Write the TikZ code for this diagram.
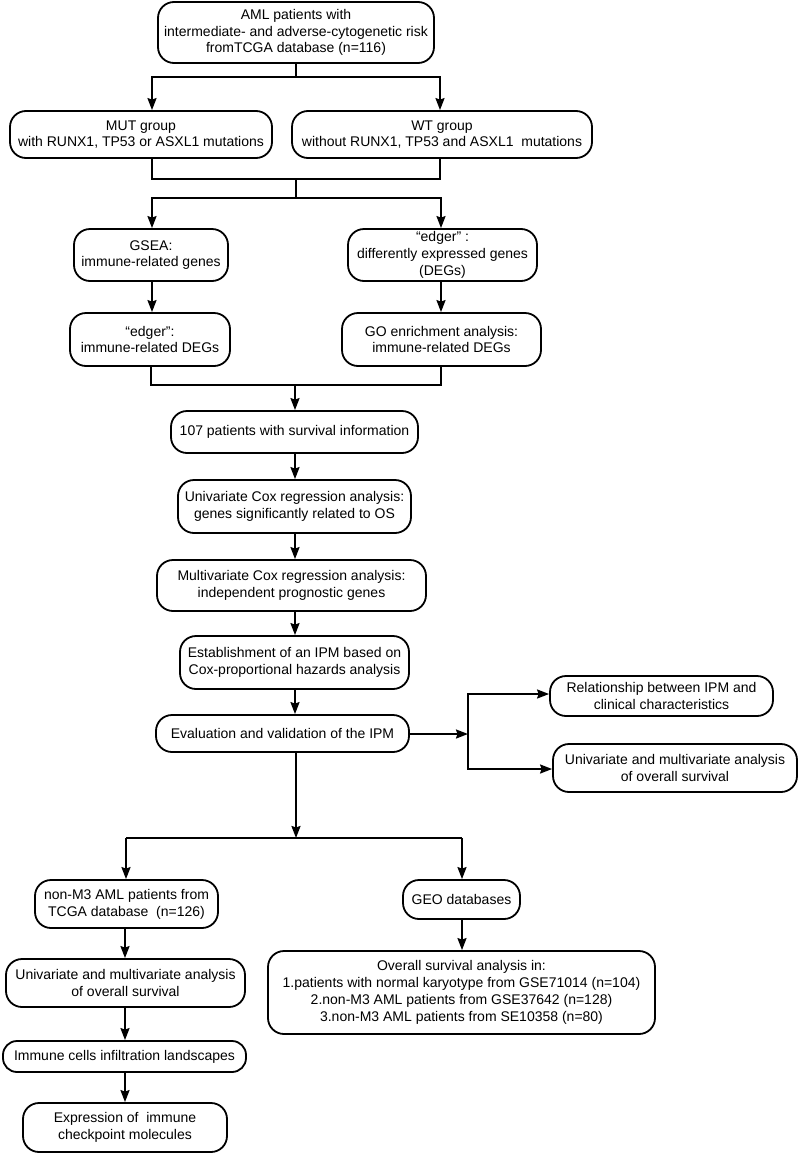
\documentclass[tikz,border=0pt]{standalone}
\usepackage{fontspec}
\setmainfont{Liberation Sans}
\usetikzlibrary{arrows.meta}
\begin{document}
\begin{tikzpicture}[x=1pt,y=-1pt,
  box/.style={draw, line width=1.8pt, rounded corners=16pt, align=center, inner sep=0pt,
    font=\fontsize{14}{16.8}\selectfont},
  ln/.style={line width=2pt},
  arr/.style={line width=2pt, -{Stealth[length=12pt,width=9pt,inset=1.5pt]}}]
\useasboundingbox[fill=white] (0,0) rectangle (798,1154);
% nodes
\node[box, minimum width=276pt, minimum height=61pt] (n1) at (296,32.5)
  {AML patients with\\intermediate- and adverse-cytogenetic risk\\fromTCGA database (n=116)};
\node[box, minimum width=262pt, minimum height=47pt] (mut) at (141,134.5)
  {MUT group\\with RUNX1, TP53 or ASXL1 mutations};
\node[box, minimum width=300pt, minimum height=47pt] (wt) at (442,134.5)
  {WT group\\without RUNX1, TP53 and ASXL1\ \ mutations};
\node[box, minimum width=154pt, minimum height=52pt] (gsea) at (151,255)
  {GSEA:\\immune-related genes};
\node[box, minimum width=189pt, minimum height=52pt] (edger) at (442.5,255)
  {“edger” :\\differently expressed genes\\(DEGs)};
\node[box, minimum width=160pt, minimum height=53pt] (edgerb) at (150,339.5)
  {“edger”:\\immune-related DEGs};
\node[box, minimum width=199pt, minimum height=53pt] (go) at (441.5,339.5)
  {GO enrichment analysis:\\immune-related DEGs};
\node[box, minimum width=247pt, minimum height=42pt] (p107) at (294.5,432)
  {107 patients with survival information};
\node[box, minimum width=233pt, minimum height=53pt] (ucox) at (294.5,506.5)
  {Univariate Cox regression analysis:\\genes significantly related to OS};
\node[box, minimum width=269pt, minimum height=51pt] (mcox) at (291.5,585.5)
  {Multivariate Cox regression analysis:\\independent prognostic genes};
\node[box, minimum width=229pt, minimum height=53pt] (est) at (294.5,662.5)
  {Establishment of an IPM based on\\Cox-proportional hazards analysis};
\node[box, minimum width=253pt, minimum height=37pt] (eval) at (282.5,733.5)
  {Evaluation and validation of the IPM};
\node[box, minimum width=223pt, minimum height=40pt] (rel) at (661.5,696)
  {Relationship between IPM and\\clinical characteristics};
\node[box, minimum width=244pt, minimum height=48pt] (uos) at (675,768)
  {Univariate and multivariate analysis\\of overall survival};
\node[box, minimum width=183pt, minimum height=48pt] (nm3) at (126.5,904)
  {non-M3 AML patients from\\TCGA database\ \ (n=126)};
\node[box, minimum width=117pt, minimum height=39pt] (geo) at (461.5,899.5)
  {GEO databases};
\node[box, minimum width=239pt, minimum height=48pt] (uos2) at (125.5,983)
  {Univariate and multivariate analysis\\of overall survival};
\node[box, minimum width=387pt, minimum height=83pt] (ovs) at (461.5,992.5)
  {Overall survival analysis in:\\1.patients with normal karyotype from GSE71014 (n=104)\\2.non-M3 AML patients from GSE37642 (n=128)\\3.non-M3 AML patients from SE10358 (n=80)};
\node[box, rounded corners=14pt, minimum width=243pt, minimum height=31pt] (imm) at (124.5,1056.5)
  {Immune cells infiltration landscapes};
\node[box, minimum width=204pt, minimum height=49pt] (expr) at (125,1127.5)
  {Expression of\ \ immune\\checkpoint molecules};
% bus / column coordinates (integer positions keep lines crisp)
\coordinate (top) at (296,0);
\coordinate (a1) at (152,77);
\coordinate (a2) at (440,77);
\coordinate (b1) at (152,179);
\coordinate (b2) at (440,179);
\coordinate (bc) at (296,179);
\coordinate (c1) at (152,198);
\coordinate (c2) at (441,198);
\coordinate (d1) at (151,385);
\coordinate (d2) at (441,385);
\coordinate (dc) at (295,385);
\coordinate (vx) at (295,0);
\coordinate (e1) at (468,734);
\coordinate (f1) at (468,694);
\coordinate (f2) at (468,769);
\coordinate (g) at (296,838);
\coordinate (h1) at (126,838);
\coordinate (h2) at (462,838);
\coordinate (lx) at (125,0);
% connectors
\draw[arr] (top |- n1.south) |- (a1) -- (a1 |- mut.north);
\draw[arr] (top |- n1.south) |- (a2) -- (a2 |- wt.north);
\draw[ln] (b1 |- mut.south) -- (b1) -- (b2) -- (b2 |- wt.south);
\draw[arr] (bc) |- (c1) -- (c1 |- gsea.north);
\draw[arr] (bc) |- (c2) -- (c2 |- edger.north);
\draw[arr] (c1 |- gsea.south) -- (c1 |- edgerb.north);
\draw[arr] (c2 |- edger.south) -- (c2 |- go.north);
\draw[ln] (d1 |- edgerb.south) -- (d1) -- (d2) -- (d2 |- go.south);
\draw[arr] (dc) -- (dc |- p107.north);
\draw[arr] (vx |- p107.south) -- (vx |- ucox.north);
\draw[arr] (vx |- ucox.south) -- (vx |- mcox.north);
\draw[arr] (vx |- mcox.south) -- (vx |- est.north);
\draw[arr] (vx |- est.south) -- (vx |- eval.north);
\draw[arr] (eval.east |- e1) -- (e1);
\draw[arr] (f2) -- (f1) -- (f1 -| rel.west);
\draw[arr] (f1) -- (f2) -- (f2 -| uos.west);
\draw[arr] (g |- eval.south) -- (g);
\draw[ln] (h1) -- (h2);
\draw[arr] (h1) -- (h1 |- nm3.north);
\draw[arr] (h2) -- (h2 |- geo.north);
\draw[arr] (lx |- nm3.south) -- (lx |- uos2.north);
\draw[arr] (h2 |- geo.south) -- (h2 |- ovs.north);
\draw[arr] (lx |- uos2.south) -- (lx |- imm.north);
\draw[arr] (lx |- imm.south) -- (lx |- expr.north);
\end{tikzpicture}
\end{document}
